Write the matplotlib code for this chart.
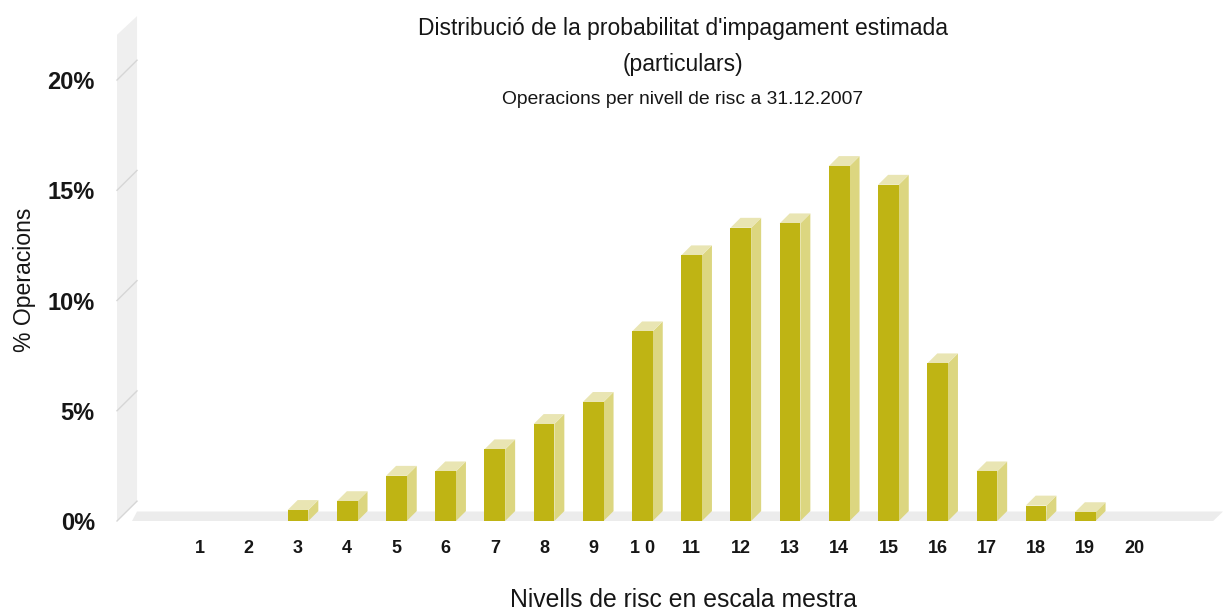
import matplotlib
matplotlib.use("Agg")
import matplotlib.pyplot as plt
import numpy as np
from matplotlib.patches import Polygon

# data
levels = list(range(1, 21))
level_labels = ["1", "2", "3", "4", "5", "6", "7", "8", "9", "1 0",
                "11", "12", "13", "14", "15", "16", "17", "18", "19", "20"]
pct_operations = [0.0, 0.0, 0.5, 0.9, 2.05, 2.25, 3.25, 4.4, 5.4, 8.6,
                  12.05, 13.3, 13.5, 16.1, 15.25, 7.15, 2.25, 0.7, 0.4, 0.0]
y_ticks = [0, 5, 10, 15, 20]
y_tick_labels = ["0%", "5%", "10%", "15%", "20%"]

title = "Distribució de la probabilitat d'impagament estimada"
title2 = "(particulars)"
subtitle = "Operacions per nivell de risc a 31.12.2007"
x_label = "Nivells de risc en escala mestra"
y_label = "% Operacions"

FRONT = "#bfb414"
SIDE = "#dcd680"
TOP = "#e9e5b3"
WALL = "#efefef"
FLOOR = "#ececec"
GRID = "#d6d6d6"
TEXT = "#161616"

plt.rcParams['font.family'] = ['Liberation Sans', 'DejaVu Sans']

fig = plt.figure(figsize=(12.23, 6.12), dpi=100)
ax = fig.add_axes([117 / 1223, 91 / 612, 1106 / 1223, 521 / 612])
ax.set_xlim(-0.679, 21.8)
ax.set_ylim(0, 23.63)

bar_w = 0.42
dx = 0.203   # depth of the bars
dy = 0.45

# wall on the left
wx0, wx1 = -0.679, -0.272
wdy = 0.9
wall = Polygon([[wx0, 0], [wx1, wdy], [wx1, 22.9], [wx0, 22.05]],
               closed=True, facecolor=WALL, edgecolor="none", clip_on=False, zorder=1)
ax.add_patch(wall)
for t in y_ticks:
    ax.plot([wx0, wx1], [t, t + wdy], color=GRID, lw=1.0, zorder=2, clip_on=False)

# floor
floor = Polygon([[-0.374, 0], [-0.272, 0.43], [21.8, 0.43], [21.6, 0]],
                closed=True, facecolor=FLOOR, edgecolor="none", clip_on=False, zorder=1)
ax.add_patch(floor)

# bars
for x, v in zip(levels, pct_operations):
    if v <= 0:
        continue
    left = x - bar_w / 2
    right = x + bar_w / 2
    side = Polygon([[right, 0], [right + dx, dy], [right + dx, v + dy], [right, v]],
                   closed=True, facecolor=SIDE, edgecolor="none", zorder=3)
    top = Polygon([[left, v], [right, v], [right + dx, v + dy], [left + dx, v + dy]],
                  closed=True, facecolor=TOP, edgecolor="none", zorder=3)
    ax.add_patch(side)
    ax.add_patch(top)
ax.bar(levels, pct_operations, width=bar_w, color=FRONT, zorder=4)

for s in ax.spines.values():
    s.set_visible(False)
ax.set_facecolor("none")
ax.set_yticks(y_ticks)
ax.set_yticklabels(y_tick_labels)
ax.set_xticks(levels)
ax.set_xticklabels(level_labels)
ax.tick_params(axis="y", length=0, pad=16, labelsize=17, labelcolor=TEXT)
ax.tick_params(axis="x", length=0, pad=14, labelsize=13, labelcolor=TEXT)
for lab in ax.get_yticklabels() + ax.get_xticklabels():
    lab.set_fontweight("bold")

fig.text(683 / 1223, 1 - 28 / 612, title, ha="center", va="center",
         fontsize=16.5, color=TEXT)
fig.text(683 / 1223, 1 - 64 / 612, title2, ha="center", va="center",
         fontsize=16.5, color=TEXT)
fig.text(683 / 1223, 1 - 100 / 612, subtitle, ha="center", va="center",
         fontsize=13.9, color=TEXT)
fig.text(684 / 1223, 1 - 600 / 612, x_label, ha="center", va="center",
         fontsize=17.8, color=TEXT)
fig.text(25 / 1223, 1 - 280 / 612, y_label, ha="center", va="center",
         rotation=90, fontsize=16.6, color=TEXT)

fig.savefig("out.png", dpi=100)
